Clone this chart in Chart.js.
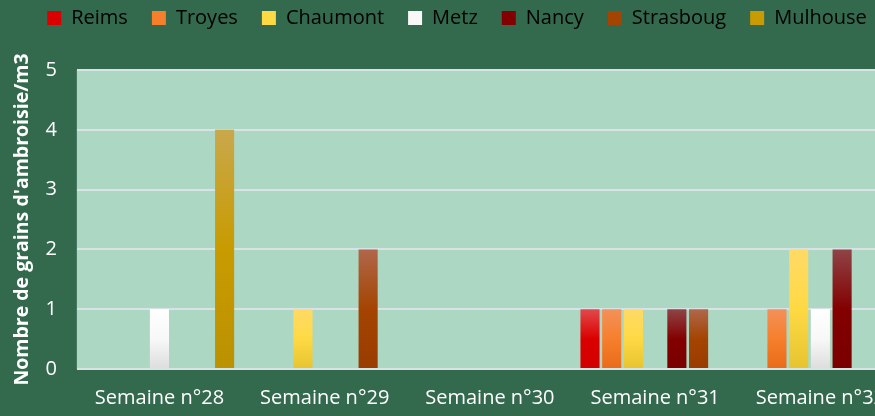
<!DOCTYPE html>
<html>
<head>
<meta charset="utf-8">
<script src="https://cdn.jsdelivr.net/npm/chart.js@4.4.0/dist/chart.umd.min.js"></script>
<style>
  body { margin: 0; background: #33694d; }
  #wrap { width: 875px; height: 416px; overflow: hidden; }
</style>
</head>
<body>
<div id="wrap"><canvas id="chart" width="912" height="416"></canvas></div>
<script>
// weekly ambrosia pollen counts per town

const weeks = ["Semaine n°28", "Semaine n°29", "Semaine n°30", "Semaine n°31", "Semaine n°32"];
const towns = ["Reims", "Troyes", "Chaumont", "Metz", "Nancy", "Strasboug", "Mulhouse"];

const reims = [0, 0, 0, 1, 0];
const troyes = [0, 0, 0, 1, 1];
const chaumont = [0, 1, 0, 1, 2];
const metz = [1, 0, 0, 0, 1];
const nancy = [0, 0, 0, 1, 2];
const strasboug = [0, 2, 0, 1, 0];
const mulhouse = [4, 0, 0, 0, 2];

const yTicks = [0, 1, 2, 3, 4, 5];

// top / middle / bottom colours of each bar gradient
const colorStops = [
  ["#e2494b", "#da0000", "#d20000"],
  ["#f39159", "#f67f2c", "#e96b1a"],
  ["#ffda66", "#fed944", "#e6c430"],
  ["#ffffff", "#f8f8f8", "#dddddd"],
  ["#8f4446", "#830000", "#7a0000"],
  ["#b0674a", "#a44402", "#9a3c00"],
  ["#c9a84c", "#c89b00", "#bb9100"],
];

function barGradient(i) {
  return function (context) {
    const chart = context.chart;
    if (!chart.chartArea || context.parsed == null) return colorStops[i][1];
    const y = chart.scales.y;
    const top = y.getPixelForValue(context.parsed.y);
    const bottom = y.getPixelForValue(0);
    if (bottom - top < 1) return colorStops[i][1];
    const g = chart.ctx.createLinearGradient(0, top, 0, bottom);
    g.addColorStop(0, colorStops[i][0]);
    g.addColorStop(0.5, colorStops[i][1]);
    g.addColorStop(1, colorStops[i][2]);
    return g;
  };
}

const plotBackground = {
  id: "plotBackground",
  beforeDraw(chart) {
    const ctx = chart.ctx;
    const a = chart.chartArea;
    ctx.save();
    ctx.fillStyle = "#33694d";
    ctx.fillRect(0, 0, chart.width, chart.height);
    ctx.fillStyle = "#acd8c3";
    ctx.fillRect(a.left, a.top, a.right - a.left, a.bottom - a.top);
    ctx.restore();
  },
};

// leave more room under the legend
const legendGap = {
  id: "legendGap",
  afterInit(chart) {
    const fit = chart.legend.fit;
    chart.legend.fit = function () {
      fit.bind(chart.legend)();
      this.height += 32;
    };
  },
};

const seriesValues = [reims, troyes, chaumont, metz, nancy, strasboug, mulhouse];

let data = {
  labels: weeks,
  datasets: [],
};

for (let i = 0; i < towns.length; i++) {
  data.datasets.push({
    label: towns[i],
    data: seriesValues[i],
    backgroundColor: barGradient(i),
    borderWidth: 0,
    categoryPercentage: 0.92,
    barPercentage: 0.88,
  });
}

const options = {
  responsive: false,
  animation: { duration: 0 },
  layout: {
    padding: { left: 11, right: 9, top: -16, bottom: -3 },
  },
  plugins: {
    tooltip: { enabled: false },
    legend: {
      display: true,
      labels: {
        color: "#ffffff",
        font: { family: "Open Sans", size: 20 },
        boxWidth: 14,
        boxHeight: 14,
        padding: 24,
        generateLabels(chart) {
          return towns.map((t, i) => ({
            text: t,
            fillStyle: colorStops[i][1],
            strokeStyle: colorStops[i][1],
            lineWidth: 0,
            datasetIndex: i,
          }));
        },
      },
    },
  },
  scales: {
    x: {
      grid: { display: false },
      border: { display: false },
      ticks: {
        color: "#ffffff",
        font: { family: "Open Sans", size: 20 },
        padding: 9,
        maxRotation: 0,
      },
    },
    y: {
      min: 0,
      max: 5,
      afterBuildTicks(axis) {
        axis.ticks = yTicks.map((v) => ({ value: v }));
      },
      grid: { color: "#d9e2e5", lineWidth: 2, drawTicks: false },
      border: { display: false },
      ticks: {
        color: "#ffffff",
        font: { family: "Open Sans", size: 20 },
        padding: 20,
      },
      title: {
        display: true,
        text: "Nombre de grains d'ambroisie/m3",
        color: "#ffffff",
        font: { family: "Open Sans", size: 19.5, weight: "bold" },
        padding: { top: 0, bottom: -9 },
      },
    },
  },
};

const chart = new Chart(document.getElementById("chart").getContext("2d"), {
  type: "bar",
  data: data,
  options: options,
  plugins: [plotBackground, legendGap],
});
</script>
</body>
</html>
